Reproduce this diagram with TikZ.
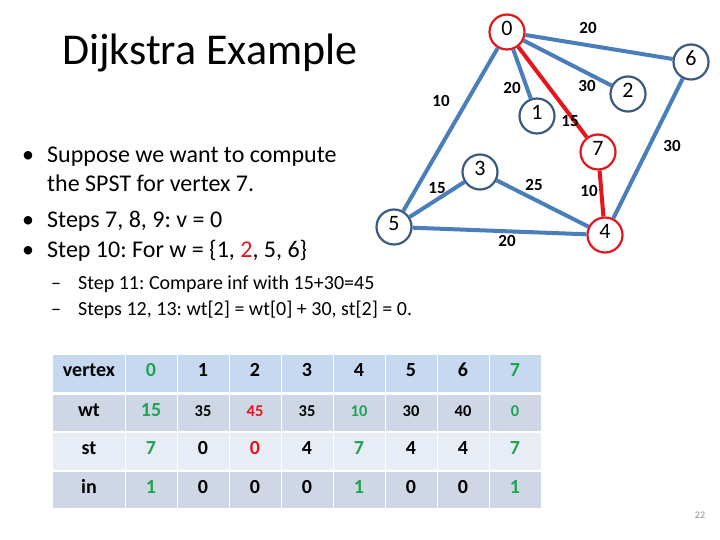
\documentclass[tikz,border=0pt]{standalone}
\usepackage{fontspec}
\setmainfont{Carlito}
\frenchspacing
\definecolor{edgeblue}{HTML}{4A7EBB}
\definecolor{nodeblue}{HTML}{3C5A7E}
\definecolor{myred}{HTML}{E3161E}
\definecolor{mygreen}{HTML}{1FA453}
\definecolor{hdr}{HTML}{C6D9F1}
\definecolor{rowA}{HTML}{CFD6E5}
\definecolor{rowB}{HTML}{E8ECF4}
\definecolor{pggray}{HTML}{8C8C8C}
\tikzset{
  vtx/.style={circle, draw=nodeblue, line width=2.2pt, minimum size=35pt, inner sep=0pt, fill=white, font=\fontsize{22}{26}\selectfont, text height=0.64em, text depth=0pt},
  rvtx/.style={vtx, draw=myred},
  gedge/.style={draw=edgeblue, line width=4pt},
  redge/.style={draw=myred, line width=4pt},
  wlab/.style={inner sep=0pt, font=\fontsize{17}{20}\selectfont\bfseries, text height=0.64em, text depth=0pt},
  txt/.style={inner sep=0pt, anchor=base west},
  big/.style={txt, font=\fontsize{24}{28}\selectfont},
  small/.style={txt, font=\fontsize{20}{24}\selectfont},
  cellt/.style={inner sep=0pt, font=\fontsize{20}{22}\selectfont\bfseries, text height=0.64em, text depth=0pt},
  cellw/.style={inner sep=0pt, font=\fontsize{16.5}{18}\selectfont\bfseries, text height=0.64em, text depth=0pt},
}
\begin{document}
\begin{tikzpicture}[x=1pt, y=-1pt]
\useasboundingbox (0,0) rectangle (720,540);
\fill[white] (0,0) rectangle (720,540);

% title
\node[txt, font=\fontsize{44}{50}\selectfont] (title) at (62,65) {Dijkstra Example};

% bullets
\node[big] (d1) at (22,163) {•};
\node[big] (b1a) at (47,163) {Suppose we want to compute};
\node[big] (b1b) at (47,192) {the SPST for vertex 7.};
\node[big] (d2) at (22,227) {•};
\node[big] (b2) at (47,227) {Steps 7, 8, 9: v = 0};
\node[big] (d3) at (22,258) {•};
\node[big] (b3) at (47,258) {Step 10: For w = \{1, \textcolor{myred}{2}, 5, 6\}};
\node[small] (s1d) at (51,289) {–};
\node[small] (s1) at (78,289) {Step 11: Compare inf with 15+30=45};
\node[small] (s2d) at (51,315) {–};
\node[small] (s2) at (78,315) {Steps 12, 13: wt[2] = wt[0] + 30, st[2] = 0.};

% graph nodes
\node[rvtx] (n0) at (507,32) {0};
\node[vtx] (n6) at (691,62) {6};
\node[vtx] (n2) at (628,94) {2};
\node[vtx] (n1) at (537,116) {1};
\node[rvtx] (n7) at (598,152) {7};
\node[vtx] (n3) at (480,172) {3};
\node[vtx] (n5) at (394,227) {5};
\node[rvtx] (n4) at (605,235) {4};

% edges
\draw[gedge] (n0) -- (n6);
\draw[gedge] (n0) -- (n1);
\draw[gedge] (n0) -- (n2);
\draw[gedge] (n0) -- (n5);
\draw[gedge] (n6) -- (n4);
\draw[gedge] (n3) -- (n5);
\draw[gedge] (n3) -- (n4);
\draw[gedge] (n5) -- (n4);
\draw[redge] (n0) -- (n7);
\draw[redge] (n7) -- (n4);

% edge weights
\node[wlab] (w06) at (588,30) {20};
\node[wlab] (w01) at (512,90) {20};
\node[wlab] (w02) at (587,88) {30};
\node[wlab] (w05) at (441,103) {10};
\node[wlab] (w07) at (570,123) {15};
\node[wlab] (w64) at (672,148) {30};
\node[wlab] (w35) at (437,190) {15};
\node[wlab] (w34) at (534,187) {25};
\node[wlab] (w74) at (589,193) {10};
\node[wlab] (w54) at (507,243) {20};

% table backgrounds
\foreach \r/\tp/\bt/\cl in {0/355/392/hdr, 1/394.5/431/rowA, 2/433/470/rowB, 3/472/508/rowA} {
  \fill[\cl] (53,\tp) rectangle (124.5,\bt);
  \foreach \i in {1,...,8} {
    \fill[\cl] ({126+52*(\i-1)},\tp) rectangle ({126+52*(\i-1)+50.5},\bt);
  }
}

% header row
\node[cellt] (h0) at (89,373.5) {vertex};
\node[cellt, text=mygreen] (h1) at (151,373.5) {0};
\node[cellt] (h2) at (203,373.5) {1};
\node[cellt] (h3) at (255,373.5) {2};
\node[cellt] (h4) at (307,373.5) {3};
\node[cellt] (h5) at (359,373.5) {4};
\node[cellt] (h6) at (411,373.5) {5};
\node[cellt] (h7) at (463,373.5) {6};
\node[cellt, text=mygreen] (h8) at (515,373.5) {7};

% wt row
\node[cellt] (w0) at (89,413) {wt};
\node[cellt, text=mygreen] (w1) at (151,413) {15};
\node[cellw] (w2) at (203,413) {35};
\node[cellw, text=myred] (w3) at (255,413) {45};
\node[cellw] (w4) at (307,413) {35};
\node[cellw, text=mygreen] (w5) at (359,413) {10};
\node[cellw] (w6) at (411,413) {30};
\node[cellw] (w7) at (463,413) {40};
\node[cellw, text=mygreen] (w8) at (515,413) {0};

% st row
\node[cellt] (t0) at (89,451.5) {st};
\node[cellt, text=mygreen] (t1) at (151,451.5) {7};
\node[cellt] (t2) at (203,451.5) {0};
\node[cellt, text=myred] (t3) at (255,451.5) {0};
\node[cellt] (t4) at (307,451.5) {4};
\node[cellt, text=mygreen] (t5) at (359,451.5) {7};
\node[cellt] (t6) at (411,451.5) {4};
\node[cellt] (t7) at (463,451.5) {4};
\node[cellt, text=mygreen] (t8) at (515,451.5) {7};

% in row
\node[cellt] (i0) at (89,490) {in};
\node[cellt, text=mygreen] (i1) at (151,490) {1};
\node[cellt] (i2) at (203,490) {0};
\node[cellt] (i3) at (255,490) {0};
\node[cellt] (i4) at (307,490) {0};
\node[cellt, text=mygreen] (i5) at (359,490) {1};
\node[cellt] (i6) at (411,490) {0};
\node[cellt] (i7) at (463,490) {0};
\node[cellt, text=mygreen] (i8) at (515,490) {1};

% page number
\node[inner sep=0pt, text=pggray, font=\fontsize{10}{12}\selectfont] (pg) at (700,515) {22};
\end{tikzpicture}
\end{document}
